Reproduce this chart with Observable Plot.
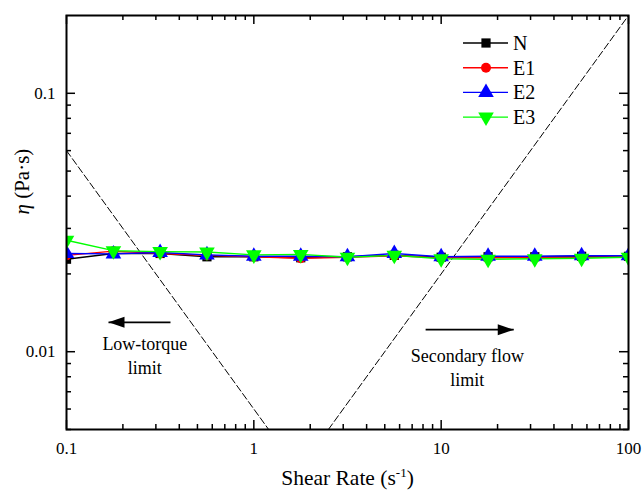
<!DOCTYPE html>
<html><head><meta charset="utf-8">
<script src="https://cdn.jsdelivr.net/npm/d3@7"></script>
<script src="https://cdn.jsdelivr.net/npm/@observablehq/plot@0.6"></script>
<style>
body{margin:0;background:#fff}
#wrap{position:relative;width:643px;height:492px}
#legend{position:absolute;left:0;top:0}
</style>
</head><body><div id="wrap"></div>
<script>
// ---- data ----
const shearRate = [0.1, 0.178, 0.316, 0.562, 1, 1.78, 3.16, 5.62, 10, 17.8, 31.6, 56.2, 100];
const etaN  = [0.0228, 0.0240, 0.0240, 0.0233, 0.0233, 0.0231, 0.0233, 0.0236, 0.0232, 0.0233, 0.0233, 0.0234, 0.0234];
const etaE1 = [0.0236, 0.0245, 0.0240, 0.0236, 0.0233, 0.0230, 0.0232, 0.0235, 0.0231, 0.0231, 0.0232, 0.0232, 0.0233];
const etaE2 = [0.0240, 0.0239, 0.0242, 0.0237, 0.0234, 0.0234, 0.0233, 0.0240, 0.0233, 0.0234, 0.0234, 0.0235, 0.0235];
const etaE3 = [0.0270, 0.0246, 0.0244, 0.0243, 0.0237, 0.0238, 0.0232, 0.0236, 0.0229, 0.0228, 0.0229, 0.0230, 0.0232];
const seriesNames = ["N", "E1", "E2", "E3"];
const seriesColors = ["#000000", "#ff0000", "#0000ff", "#00ff00"];

const lowTorqueX = [0.1, 1.2];
const lowTorqueY = [0.06, 0.005];
const secFlowX = [2.5, 100];
const secFlowY = [0.005, 0.2];

const xTickLabels = [0.1, 1, 10, 100];
const xMinor = [0.2,0.3,0.4,0.5,0.6,0.7,0.8,0.9, 2,3,4,5,6,7,8,9, 20,30,40,50,60,70,80,90];
const yTickLabels = [0.01, 0.1];
const yMinor = [0.005,0.006,0.007,0.008,0.009, 0.02,0.03,0.04,0.05,0.06,0.07,0.08,0.09];

const annLow = {text: "Low-torque\nlimit", x: 0.262, y: 0.0098, ax1: 0.359, ax2: 0.1676, ay: 0.01299};
const annSec = {text: "Secondary flow\nlimit", x: 13.8, y: 0.00876, ax1: 8.26, ax2: 24.4, ay: 0.01217};

const xTitle = "Shear Rate (s-1)";
const yTitle = "η (Pa·s)";

// ---- layout ----
const W = 643, H = 492;
const mL = 66, mR = 15, mT = 15, mB = 63;
const innerW = W - mL - mR, innerH = H - mT - mB;

const allEta = [etaN, etaE1, etaE2, etaE3];
const rows = seriesNames.map((s, k) => shearRate.map((x, i) => ({s, x, y: allEta[k][i]})));

const triangleDown = {draw(ctx, size) {
  const y = -Math.sqrt(size / (Math.sqrt(3) * 3));
  ctx.moveTo(0, -y * 2);
  ctx.lineTo(-Math.sqrt(3) * y, y);
  ctx.lineTo(Math.sqrt(3) * y, y);
  ctx.closePath();
}};
const symbols = ["square", "circle", "triangle", triangleDown];
const radii = [5.2, 5, 5.8, 5.8];

const headRight = {draw(ctx) { ctx.moveTo(0,0); ctx.lineTo(-16,-5.5); ctx.lineTo(-16,5.5); ctx.closePath(); }};
const headLeft  = {draw(ctx) { ctx.moveTo(0,0); ctx.lineTo(16,-5.5); ctx.lineTo(16,5.5); ctx.closePath(); }};

const marks = [];
marks.push(Plot.line(lowTorqueX.map((x,i)=>({x, y: lowTorqueY[i]})), {x:"x", y:"y", stroke:"#000", strokeWidth:1, strokeDasharray:"7,3", clip:true}));
marks.push(Plot.line(secFlowX.map((x,i)=>({x, y: secFlowY[i]})), {x:"x", y:"y", stroke:"#000", strokeWidth:1, strokeDasharray:"7,3", clip:true}));
rows.forEach((r, k) => {
  marks.push(Plot.line(r, {x:"x", y:"y", stroke: seriesColors[k], strokeWidth:1.4, clip:true}));
});
rows.forEach((r, k) => {
  marks.push(Plot.dot(r, {x:"x", y:"y", fill: seriesColors[k], symbol: symbols[k], r: radii[k], stroke:"none", clip:true}));
});
for (const [a, head] of [[annLow, headLeft], [annSec, headRight]]) {
  marks.push(Plot.link([a], {x1: "ax1", x2: "ax2", y1: "ay", y2: "ay", stroke:"#000", strokeWidth:1.6}));
  marks.push(Plot.dot([a], {x: "ax2", y: "ay", symbol: head, fill:"#000", stroke:"none", r: 3}));
  marks.push(Plot.text([a], {x:"x", y:"y", text:"text", fontSize:18, lineHeight:1.33, fill:"#000"}));
}
const maj = 9, mnr = 5;
marks.push(Plot.tickX(xTickLabels, {x: d=>d, insetTop: innerH - maj, strokeWidth:1.5}));
marks.push(Plot.tickX(xTickLabels, {x: d=>d, insetBottom: innerH - maj, strokeWidth:1.5}));
marks.push(Plot.tickX(xMinor, {x: d=>d, insetTop: innerH - mnr, strokeWidth:1.5}));
marks.push(Plot.tickX(xMinor, {x: d=>d, insetBottom: innerH - mnr, strokeWidth:1.5}));
marks.push(Plot.tickY(yTickLabels, {y: d=>d, insetRight: innerW - maj, strokeWidth:1.5}));
marks.push(Plot.tickY(yTickLabels, {y: d=>d, insetLeft: innerW - maj, strokeWidth:1.5}));
marks.push(Plot.tickY(yMinor, {y: d=>d, insetRight: innerW - mnr, strokeWidth:1.5}));
marks.push(Plot.tickY(yMinor, {y: d=>d, insetLeft: innerW - mnr, strokeWidth:1.5}));
marks.push(Plot.axisX(xTickLabels, {tickSize:0, tickPadding:12, tickFormat: d=>String(d), fontSize:17, label:null}));
marks.push(Plot.axisY(yTickLabels, {tickSize:0, tickPadding:11, tickFormat: d=>String(d), fontSize:17, label:null}));
marks.push(Plot.frame({stroke:"#000", strokeWidth:2}));
marks.push(Plot.text([xTitle], {frameAnchor:"bottom", dy:55, text:d=>d, fontSize:21.5, fill:"#000"}));
marks.push(Plot.text([yTitle], {frameAnchor:"left", dx:-44, dy:-8, rotate:-90, text:d=>d, fontSize:21, fill:"#000"}));

const chart = Plot.plot({
  width: W, height: H,
  marginLeft: mL, marginRight: mR, marginTop: mT, marginBottom: mB,
  x: {type:"log", domain:[0.1, 100]},
  y: {type:"log", domain:[0.005, 0.2]},
  style: {fontFamily: "'Liberation Serif', serif", fontSize: "17px", color:"#000", background:"#fff"},
  marks
});
document.getElementById("wrap").appendChild(chart);

const svg = d3.select(chart);
svg.selectAll("text").filter(function(){ return this.textContent === xTitle; }).each(function(){
  const t = d3.select(this); t.text("");
  t.append("tspan").text("Shear Rate (s");
  t.append("tspan").attr("font-size", 13).attr("dy", "-0.55em").text("-1");
  t.append("tspan").attr("dy", "0.35em").text(")");
});
svg.selectAll("text").filter(function(){ return this.textContent === yTitle; }).each(function(){
  const t = d3.select(this); t.text("");
  t.append("tspan").attr("font-style", "italic").text("η");
  t.append("tspan").text(" (Pa·s)");
});

const lg = d3.select("#wrap").append("svg").attr("id","legend").attr("width", W).attr("height", H)
  .style("font-family", "'Liberation Serif', serif");
const legX1 = 463, legX2 = 508, legM = 486, legT = 513, legY0 = 43, legDY = 24.7;
seriesNames.forEach((s, k) => {
  const y = legY0 + k * legDY;
  lg.append("line").attr("x1", legX1).attr("x2", legX2).attr("y1", y).attr("y2", y)
    .attr("stroke", seriesColors[k]).attr("stroke-width", 1.4);
  const sym = typeof symbols[k] === "string"
    ? {square: d3.symbolSquare, circle: d3.symbolCircle, triangle: d3.symbolTriangle}[symbols[k]]
    : symbols[k];
  lg.append("path").attr("transform", `translate(${legM},${y})`)
    .attr("d", d3.symbol(sym, Math.PI * radii[k] * radii[k])()).attr("fill", seriesColors[k]);
  lg.append("text").attr("x", legT).attr("y", y).attr("dy", "0.35em").attr("font-size", 20).text(s);
});
</script>
</body></html>
